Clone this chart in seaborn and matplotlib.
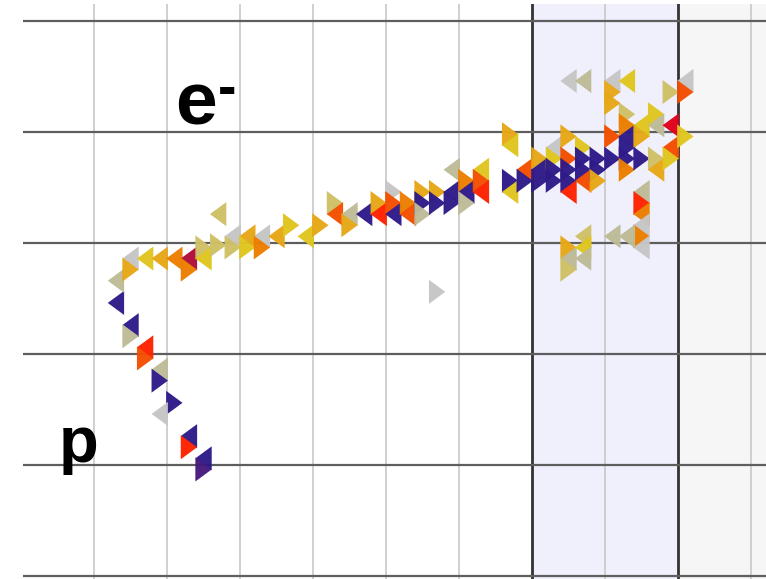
import matplotlib
matplotlib.use("Agg")
import matplotlib.pyplot as plt
import pandas as pd
import seaborn as sns

# proton track (lower left)
p_x = [1.3, 1.5, 1.5, 1.7, 1.7, 1.9, 1.9, 2.1, 1.9, 2.3, 2.3, 2.5, 2.5]
p_y = [2.46, 2.26, 2.16, 2.06, 1.96, 1.86, 1.76, 1.56, 1.46, 1.26, 1.16, 1.06, 0.96]
p_dir = ["L", "L", "R", "L", "R", "L", "R", "R", "L", "L", "R", "L", "R"]
p_col = ["P", "P", "B", "R", "OR", "B", "P", "P", "G", "P", "R", "P", "V"]

# electron track
e_x = [1.3, 1.5, 1.5, 1.7, 1.9, 2.1, 2.3, 2.3, 2.5, 2.5,
       2.7, 2.7, 2.9, 2.9, 3.1, 3.1, 3.3, 3.3, 3.5, 3.7,
       3.9, 4.1, 4.3, 4.3, 4.5, 4.5, 4.7, 4.9, 4.9, 5.1,
       5.1, 5.1, 5.3, 5.3, 5.5, 5.5, 5.5, 5.7, 5.7, 5.9,
       5.9, 5.9, 6.1, 6.1, 6.1, 6.3, 6.3, 6.3, 5.7]
e_y = [2.66, 2.86, 2.76, 2.86, 2.86, 2.86, 2.86, 2.76, 2.96, 2.86,
       2.98, 3.26, 3.06, 2.96, 3.06, 2.96, 3.06, 2.96, 3.06, 3.16,
       3.06, 3.16, 3.36, 3.26, 3.26, 3.16, 3.26, 3.36, 3.26, 3.46,
       3.36, 3.26, 3.36, 3.26, 3.46, 3.36, 3.26, 3.46, 3.36, 3.66,
       3.46, 3.36, 3.56, 3.46, 3.36, 3.66, 3.56, 3.46, 2.56]
e_dir = ["L", "L", "R", "L", "L", "L", "L", "R", "R", "L",
         "R", "L", "L", "R", "L", "R", "L", "R", "L", "R",
         "L", "R", "R", "L", "L", "R", "L", "R", "L", "R",
         "R", "L", "R", "L", "R", "R", "R", "R", "R", "L",
         "L", "R", "R", "L", "R", "L", "R", "L", "R"]
e_col = ["B", "G", "A", "Y", "A", "O", "C", "O", "K", "Y",
         "K", "K", "G", "K", "A", "Y", "G", "O", "A", "Y",
         "Y", "A", "K", "OR", "B", "A", "P", "A", "R", "G",
         "OR", "P", "O", "OR", "A", "P", "B", "A", "P", "B",
         "P", "P", "O", "P", "B", "Y", "OR", "R", "G"]

# burst on the right
b_x = [6.7, 6.7, 6.7, 6.7, 6.9, 6.9, 7.1, 7.1, 7.1, 7.3,
       7.3, 7.3, 7.3, 7.5, 7.5, 7.5, 7.5, 7.5, 7.7, 7.7,
       7.7, 7.7, 7.9, 7.9, 7.9, 8.1, 8.1, 8.3, 8.3, 8.3,
       8.3, 8.3, 8.3, 8.5, 8.5, 8.5, 8.7, 8.7, 8.7, 8.7,
       8.9, 8.9, 8.9, 8.9, 9.1, 9.1, 9.1, 7.5, 7.7, 8.1,
       8.3, 8.1, 8.1, 8.5, 8.5, 8.5, 8.5, 8.5, 8.5, 8.1,
       8.3, 7.5, 7.5, 7.5, 7.7, 7.7, 7.7]
b_y = [3.98, 3.88, 3.56, 3.46, 3.66, 3.56, 3.76, 3.66, 3.56, 3.86,
       3.76, 3.66, 3.56, 3.96, 3.76, 3.66, 3.56, 3.46, 3.86, 3.76,
       3.66, 3.56, 3.76, 3.66, 3.56, 3.96, 3.76, 4.16, 4.06, 3.96,
       3.86, 3.76, 3.66, 4.06, 3.96, 3.76, 4.16, 4.06, 3.76, 3.66,
       4.06, 3.86, 3.76, 4.36, 4.46, 4.36, 3.96, 4.46, 4.46, 4.46,
       4.46, 4.36, 4.26, 3.46, 3.36, 3.26, 3.16, 3.06, 2.96, 3.06,
       3.06, 2.96, 2.86, 2.76, 3.06, 2.96, 2.86]
b_dir = ["R", "L", "R", "L", "L", "R", "R", "L", "R", "L",
         "R", "R", "R", "R", "R", "R", "R", "L", "R", "R",
         "R", "L", "R", "R", "R", "R", "R", "R", "R", "L",
         "R", "R", "R", "L", "R", "R", "R", "L", "R", "L",
         "L", "L", "R", "R", "L", "R", "R", "L", "L", "L",
         "L", "R", "R", "L", "R", "L", "L", "R", "L", "L",
         "L", "R", "L", "R", "L", "L", "L"]
b_col = ["A", "Y", "P", "Y", "OR", "P", "A", "P", "P", "G",
         "Y", "P", "P", "A", "OR", "P", "P", "R", "Y", "P",
         "P", "OR", "P", "P", "A", "OR", "P", "K", "O", "P",
         "P", "P", "O", "Y", "A", "P", "Y", "B", "K", "A",
         "CR", "OR", "Y", "K", "G", "OR", "Y", "G", "B", "G",
         "Y", "A", "A", "B", "R", "O", "G", "O", "G", "B",
         "B", "A", "B", "K", "K", "Y", "B"]

palette = {
    "P": "#2f1a88", "V": "#46197c", "R": "#ff2200", "OR": "#f34e00",
    "O": "#ec7e00", "A": "#e7a716", "Y": "#e0c61f", "K": "#cfc066",
    "B": "#bebb97", "G": "#c6c6c6", "C": "#b00d3b", "CR": "#e0001c",
}

df = pd.DataFrame({
    "x": p_x + e_x + b_x,
    "y": p_y + e_y + b_y,
    "dir": p_dir + e_dir + b_dir,
    "col": p_col + e_col + b_col,
})

tri_right = [(-0.34, -0.5), (-0.34, 0.5), (0.34, 0.0)]
tri_left = [(0.34, -0.5), (0.34, 0.5), (-0.34, 0.0)]

fig = plt.figure(figsize=(7.66, 5.79), dpi=100)
ax = fig.add_axes([23 / 766, 0, 743 / 766, 575 / 579])

ax.axvspan(7, 9, color="#f0f0fd", lw=0, zorder=0)
ax.axvspan(9, 10.5, color="#f6f6f6", lw=0, zorder=0)
for v in range(1, 11):
    if v in (7, 9):
        ax.axvline(v, color="#333333", lw=2.0, zorder=1)
    else:
        ax.axvline(v, color="#c4c4c4", lw=1.1, zorder=1)
for h in range(0, 6):
    ax.axhline(h, color="#5e5e5e", lw=1.6, zorder=1)

sns.scatterplot(
    data=df, x="x", y="y",
    hue="col", palette=palette,
    style="dir", markers={"L": tri_left, "R": tri_right},
    s=300, linewidth=0, edgecolor="none", alpha=0.97,
    legend=False, ax=ax, zorder=3
)

font = ["Liberation Sans", "DejaVu Sans"]
ax.text(2.11, 4.07, "e", fontsize=54, fontweight="bold", family=font,
        ha="left", va="baseline", zorder=4)
ax.text(2.69, 4.24, "-", fontsize=40, fontweight="bold", family=font,
        ha="left", va="baseline", zorder=4)
ax.text(0.51, 1.03, "p", fontsize=47, fontweight="bold", family=font,
        ha="left", va="baseline", zorder=4)

ax.set_xlim(0.027, 10.205)
ax.set_ylim(-0.027, 5.153)
ax.axis("off")

fig.savefig("out.png", dpi=100)
